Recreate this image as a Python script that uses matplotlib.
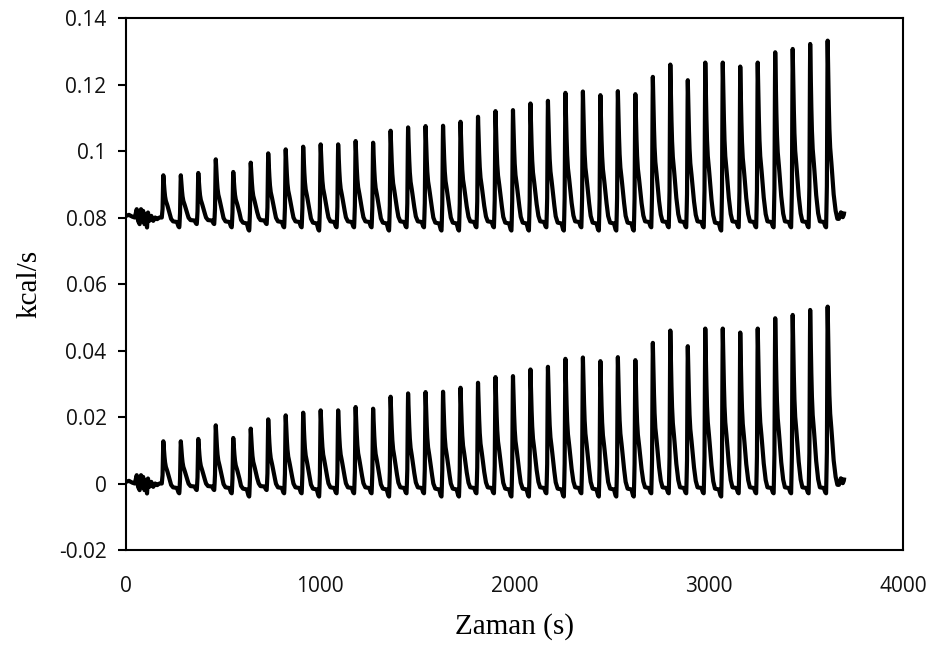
import matplotlib
matplotlib.use('Agg')
import matplotlib.pyplot as plt
import numpy as np

# Injection times (s) and peak heights (kcal/s)
peak_times = [192, 282, 372, 462, 552, 642, 732, 822, 912, 1002,
              1092, 1182, 1272, 1362, 1452, 1542, 1632, 1722, 1812, 1902,
              1992, 2082, 2172, 2262, 2352, 2442, 2532, 2622, 2712, 2802,
              2892, 2982, 3072, 3162, 3252, 3342, 3432, 3522, 3612]
peak_heights = [0.0127, 0.0127, 0.0134, 0.0175, 0.0137, 0.0165, 0.0193, 0.0205, 0.0213, 0.0220,
                0.0220, 0.0230, 0.0225, 0.0261, 0.0271, 0.0275, 0.0276, 0.0288, 0.0303, 0.0320,
                0.0323, 0.0343, 0.0351, 0.0375, 0.0379, 0.0368, 0.0380, 0.0371, 0.0423, 0.0460,
                0.0413, 0.0466, 0.0466, 0.0454, 0.0466, 0.0497, 0.0507, 0.0522, 0.0532]
# depth of the dip that follows each peak
trough_depths = [-0.003, -0.002, -0.002, -0.003, -0.004, -0.002, -0.003, -0.003, -0.004, -0.003,
                 -0.003, -0.003, -0.004, -0.003, -0.003, -0.004, -0.004, -0.003, -0.003, -0.004,
                 -0.004, -0.003, -0.004, -0.003, -0.004, -0.004, -0.004, -0.003, -0.003, -0.003,
                 -0.003, -0.004, -0.003, -0.003, -0.003, -0.003, -0.003, -0.003, -0.001]

# shape of one injection peak, relative to its height
pulse_t = [-8, -4, -2, 0, 4, 8, 12, 16, 20, 25, 30, 40, 50]
pulse_v = [0.0, 0.2, 0.7, 1.0, 0.74, 0.53, 0.41, 0.35, 0.3, 0.22, 0.14, 0.05, 0.0]
# shape of the dip after a peak, relative to its depth
dip_t = [30, 40, 55, 70, 78, 83, 88]
dip_v = [0.0, 0.35, 0.4, 0.45, 0.9, 1.0, 0.0]

# noisy start before the first injection
start_t = [0, 15, 30, 45, 55, 62, 70, 77, 83, 88, 95, 103, 108, 113, 120, 130, 140, 150, 160, 172, 180]
start_v = [0.0005, 0.0008, 0.0003, 0.0, 0.0025, -0.001, -0.002, 0.0025, -0.001, 0.002, -0.002,
           0.001, -0.003, 0.0015, -0.001, 0.0005, -0.001, 0.0, -0.0005, 0.0, 0.0]
# short tail at the end of the run
end_t = [3670, 3680, 3690, 3696]
end_v = [0.0, 0.002, 0.001, 0.002]

offset = 0.08  # upper trace is the same signal shifted up

t = np.arange(0, 3697, 1.0)
y = np.interp(t, start_t, start_v, left=0, right=0)
for tp, h, d in zip(peak_times, peak_heights, trough_depths):
    y += h * np.interp(t - tp, pulse_t, pulse_v, left=0, right=0)
    y += d * np.interp(t - tp, dip_t, dip_v, left=0, right=0)
y += np.interp(t, end_t, end_v, left=0, right=0)

fig = plt.figure(figsize=(9.35, 6.46), dpi=100)
ax = fig.add_axes([0.1348, 0.1486, 0.831, 0.8235])

ax.plot(t, y, color='black', lw=3.0)
ax.plot(t, y + offset, color='black', lw=3.0)

ax.set_xlim(0, 4000)
ax.set_ylim(-0.02, 0.14)
ax.set_xticks([0, 1000, 2000, 3000, 4000])
ax.set_yticks([-0.02, 0, 0.02, 0.04, 0.06, 0.08, 0.1, 0.12, 0.14])
ax.set_yticklabels(['-0.02', '0', '0.02', '0.04', '0.06', '0.08', '0.1', '0.12', '0.14'])
ax.tick_params(axis='x', length=0, pad=19, labelsize=15)
ax.tick_params(axis='y', length=6, width=1.5, direction='out', pad=8, labelsize=15)
for lab in ax.get_xticklabels() + ax.get_yticklabels():
    lab.set_family('Open Sans')
    lab.set_color('#111111')
for s in ax.spines.values():
    s.set_linewidth(1.5)

ax.set_xlabel('Zaman (s)', family='Liberation Serif', fontsize=21, labelpad=11)
ax.set_ylabel('kcal/s', family='Liberation Serif', fontsize=21, labelpad=12)

fig.savefig('out.png', dpi=100)
